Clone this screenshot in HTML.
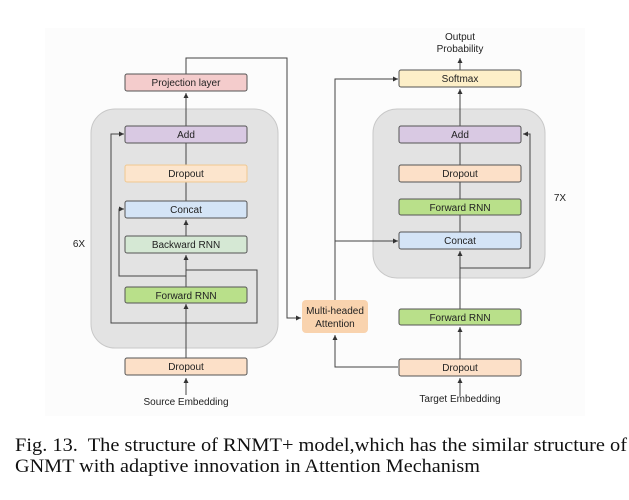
<!DOCTYPE html>
<html><head><style>
html,body{margin:0;padding:0;background:#fff;width:629px;height:500px;overflow:hidden}
svg{display:block}
.b{stroke:#555;stroke-width:1}
.t{font-family:"Liberation Sans",sans-serif;font-size:10px;fill:#222;text-anchor:middle}
.l{stroke:#444;stroke-width:1;fill:none}
.c{font-family:"Liberation Serif",serif;font-size:19px;fill:#111}
</style></head><body>
<svg width="629" height="500" viewBox="0 0 629 500">
<defs><marker id="a" markerWidth="6" markerHeight="6" refX="5" refY="3" orient="auto" markerUnits="userSpaceOnUse"><path d="M0,0.5 L5,3 L0,5.5z" fill="#333"/></marker></defs>
<rect x="45" y="28" width="540" height="388" fill="#fcfcfc"/>
<rect x="91" y="109" width="187" height="239" rx="24" fill="#e3e3e3" stroke="#c8c8c8"/>
<rect x="373" y="109" width="172" height="169" rx="24" fill="#e3e3e3" stroke="#c8c8c8"/>
<line class="l" x1="186" y1="395" x2="186" y2="378" marker-end="url(#a)"/>
<line class="l" x1="186" y1="358" x2="186" y2="304" marker-end="url(#a)"/>
<path class="l" d="M186 287 V270 M186 270 V255" marker-end="url(#a)"/>
<path class="l" d="M186 236 V220" marker-end="url(#a)"/>
<path class="l" d="M186 201 V182 M186 165 V143 M186 126 V93" marker-end="url(#a)"/>
<path class="l" d="M186 270 H257 V323 H111 V134 H124" marker-end="url(#a)"/>
<path class="l" d="M186 276 H119 V209 H124" marker-end="url(#a)"/>
<path class="l" d="M186 74 V58 H287 V318 H301" marker-end="url(#a)"/>
<path class="l" d="M460 396 V378" marker-end="url(#a)"/>
<path class="l" d="M460 359 V327" marker-end="url(#a)"/>
<path class="l" d="M460 309 V251" marker-end="url(#a)"/>
<path class="l" d="M460 232 V215 M460 199 V182 M460 165 V143 M460 126 V89" marker-end="url(#a)"/>
<path class="l" d="M460 70 V58" marker-end="url(#a)"/>
<path class="l" d="M460 268 H530 V134 H523" marker-end="url(#a)"/>
<path class="l" d="M335 300 V79 H398" marker-end="url(#a)"/>
<path class="l" d="M335 241 H398" marker-end="url(#a)"/>
<path class="l" d="M398 367 H335 V335" marker-end="url(#a)"/>
<rect class="b" x="125" y="74" width="122" height="17" rx="2" fill="#f4cccc"/><text class="t" x="186" y="86">Projection layer</text>
<rect class="b" x="125" y="126" width="122" height="17" rx="2" fill="#d9c9e3"/><text class="t" x="186" y="138">Add</text>
<rect x="125" y="165" width="122" height="17" rx="2" fill="#fce5cd" stroke="#f0c890"/><text class="t" x="186" y="177">Dropout</text>
<rect class="b" x="125" y="201" width="122" height="17" rx="2" fill="#d4e4f6"/><text class="t" x="186" y="213">Concat</text>
<rect class="b" x="125" y="236" width="122" height="17" rx="2" fill="#d5e8d4"/><text class="t" x="186" y="248">Backward RNN</text>
<rect class="b" x="125" y="287" width="122" height="16" rx="2" fill="#b9e08a"/><text class="t" x="186" y="299">Forward RNN</text>
<rect class="b" x="125" y="358" width="122" height="17" rx="2" fill="#fce0c8"/><text class="t" x="186" y="370">Dropout</text>
<text class="t" x="186" y="405">Source Embedding</text>
<text class="t" x="79" y="247">6X</text>
<rect x="302" y="300" width="66" height="33" rx="4" fill="#f9d3ae"/>
<text class="t" x="335" y="314">Multi-headed</text><text class="t" x="335" y="327">Attention</text>
<text class="t" x="460" y="40">Output</text><text class="t" x="460" y="52">Probability</text>
<rect class="b" x="399" y="70" width="122" height="17" rx="2" fill="#fdefc8"/><text class="t" x="460" y="82">Softmax</text>
<rect class="b" x="399" y="126" width="122" height="17" rx="2" fill="#d9c9e3"/><text class="t" x="460" y="138">Add</text>
<rect class="b" x="399" y="165" width="122" height="17" rx="2" fill="#fce0c8"/><text class="t" x="460" y="177">Dropout</text>
<rect class="b" x="399" y="199" width="122" height="16" rx="2" fill="#b9e08a"/><text class="t" x="460" y="211">Forward RNN</text>
<rect class="b" x="399" y="232" width="122" height="17" rx="2" fill="#d4e4f6"/><text class="t" x="460" y="244">Concat</text>
<rect class="b" x="399" y="309" width="122" height="16" rx="2" fill="#b9e08a"/><text class="t" x="460" y="321">Forward RNN</text>
<rect class="b" x="399" y="359" width="122" height="17" rx="2" fill="#fce0c8"/><text class="t" x="460" y="371">Dropout</text>
<text class="t" x="460" y="402">Target Embedding</text>
<text class="t" x="560" y="201">7X</text>
<text class="c" x="15" y="451" textLength="612" lengthAdjust="spacingAndGlyphs" xml:space="preserve">Fig. 13.  The structure of RNMT+ model,which has the similar structure of</text>
<text class="c" x="15" y="472" textLength="465" lengthAdjust="spacingAndGlyphs">GNMT with adaptive innovation in Attention Mechanism</text>
</svg>
</body></html>
